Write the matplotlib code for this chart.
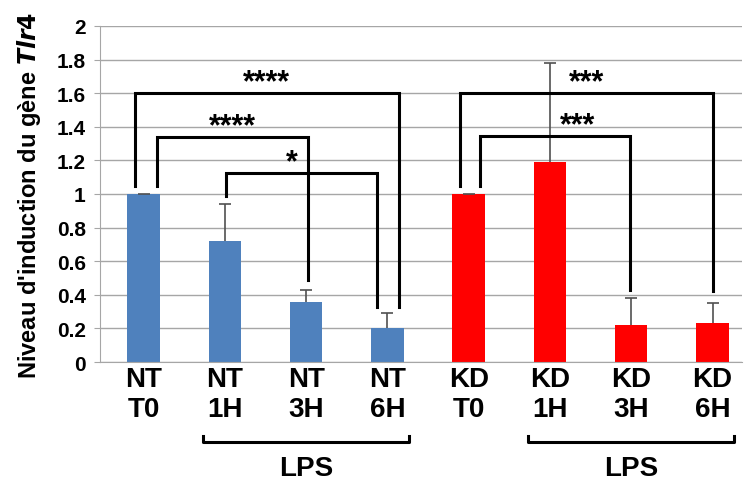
import matplotlib

matplotlib.use("Agg")
import matplotlib.pyplot as plt  # noqa: E402
import numpy as np  # noqa: E402

plt.rcParams["font.family"] = ["Liberation Sans", "DejaVu Sans"]
plt.rcParams["font.weight"] = "bold"

# --- data ---
LABELS = ["NT\nT0", "NT\n1H", "NT\n3H", "NT\n6H", "KD\nT0", "KD\n1H", "KD\n3H", "KD\n6H"]
VALUES = [1.0, 0.72, 0.36, 0.20, 1.0, 1.19, 0.22, 0.23]
ERRORS = [0.0, 0.22, 0.07, 0.09, 0.0, 0.59, 0.16, 0.12]
COLORS = ["#4f81bd"] * 4 + ["#ff0000"] * 4

# significance brackets: (left cat, right cat, stars)
SIG = [(0, 3, "****"), (0, 2, "****"), (1, 3, "*"), (4, 7, "***"), (4, 6, "***")]
# LPS groups: (first cat, last cat)
LPS_GROUPS = [(1, 3), (5, 7)]

fig = plt.figure(figsize=(7.44, 4.81), dpi=100)
ax = fig.add_axes([0.134, 0.2453, 0.863, 0.6986])

x = np.arange(len(VALUES))
ax.bar(x, VALUES, 0.4, color=COLORS, zorder=2)
_, caps, _ = ax.errorbar(x, VALUES, yerr=[np.zeros(len(ERRORS)), ERRORS], fmt="none",
                         ecolor="#505050", elinewidth=1.2, capsize=4, capthick=1.2,
                         zorder=3)
caps[0].set_visible(False)  # upper error only

ax.set_xlim(-0.54, 7.36)
ax.set_ylim(0, 2)
ax.set_yticks(np.arange(0, 2.01, 0.2))
ax.set_yticklabels(["0"] + [f"{v:.1f}".rstrip("0").rstrip(".") for v in np.arange(0.2, 2.01, 0.2)])
ax.yaxis.grid(True, color="#a6a6a6", linewidth=1.0, zorder=0)
ax.set_axisbelow(True)
for s in ["top", "right"]:
    ax.spines[s].set_visible(False)
for s in ["left", "bottom"]:
    ax.spines[s].set_color("#a6a6a6")
ax.tick_params(axis="y", length=4, color="#a6a6a6", labelsize=15, pad=6)
ax.tick_params(axis="x", length=0, labelsize=20, pad=3)
ax.set_xticks(x)
ax.set_xticklabels(LABELS, fontweight="bold", linespacing=1.2)
for t in ax.get_yticklabels():
    t.set_fontweight("bold")

ax.set_ylabel(r"Niveau d'induction du gène $\bf{\it{Tlr4}}$", fontsize=17,
              fontweight="bold", labelpad=10)

# significance brackets (heights and leg ends as drawn in the reference)
tops = {(0, 3): 1.60, (0, 2): 1.34, (1, 3): 1.125, (4, 7): 1.60, (4, 6): 1.343}
legs = {(0, 3): (1.05, 0.33), (0, 2): (1.05, 0.49), (1, 3): (0.99, 0.33),
        (4, 7): (1.05, 0.42), (4, 6): (1.05, 0.43)}
offs = {(0, 3): (-0.11, 0.14), (0, 2): (0.16, 0.02), (1, 3): (0.01, -0.13),
        (4, 7): (-0.11, 0.0), (4, 6): (0.14, -0.01)}
star_dx = {(0, 3): 0.0, (0, 2): 0.0, (1, 3): -0.12, (4, 7): 0.0, (4, 6): 0.27}
for a, b, stars in SIG:
    top = tops[(a, b)]
    la, rb = offs[(a, b)]
    xl, xr = a + la, b + rb
    yl, yr = legs[(a, b)]
    ax.plot([xl, xl, xr, xr], [yl, top, top, yr], color="black", lw=2.2,
            solid_joinstyle="miter", zorder=4)
    ax.text((xl + xr) / 2 + star_dx[(a, b)], top + 0.065, stars, ha="center",
            va="center", fontsize=22, fontweight="bold", zorder=5)

# LPS brackets below the axis
tr = ax.get_xaxis_transform()
for a, b in LPS_GROUPS:
    xl, xr = a - 0.27, b + 0.26
    ax.plot([xl, xl, xr, xr], [-0.22, -0.238, -0.238, -0.22], color="black",
            lw=2.2, transform=tr, clip_on=False)
    ax.text((a + b) / 2, -0.315, "LPS", transform=tr, ha="center", va="center",
            fontsize=20, fontweight="bold")

fig.savefig("out.png", dpi=100)
